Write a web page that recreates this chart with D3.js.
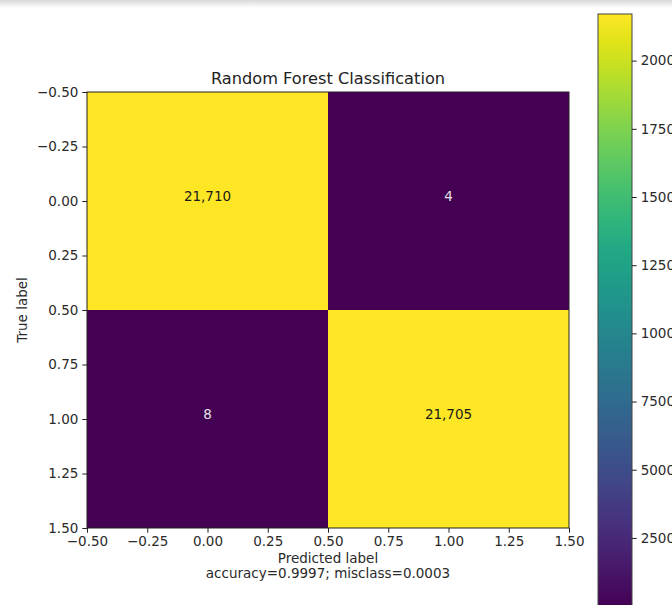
<!DOCTYPE html>
<html>
<head>
<meta charset="utf-8">
<script src="https://cdn.jsdelivr.net/npm/d3@7"></script>
<style>
  html, body { margin: 0; padding: 0; background: #fff; }
  svg { display: block; font-family: "DejaVu Sans", sans-serif; }
</style>
</head>
<body>
<svg id="chart" width="672" height="605"></svg>
<script>
// Confusion matrix of the random forest classifier
const trueLabels = [0, 1];
const predictedLabels = [0, 1];
const row0Counts = [21710, 4];
const row1Counts = [8, 21705];
const axisTicks = [-0.5, -0.25, 0, 0.25, 0.5, 0.75, 1.0, 1.25, 1.5];
const colorbarTicks = [2500, 5000, 7500, 10000, 12500, 15000, 17500, 20000];
const titleText = "Random Forest Classification";
const xLabelText = "Predicted label";
const yLabelText = "True label";
const statsText = "accuracy=0.9997; misclass=0.0003";

const counts = [row0Counts, row1Counts];
const cells = [];
trueLabels.forEach((t, i) => predictedLabels.forEach((p, j) => cells.push({ t, p, v: counts[i][j] })));

const svg = d3.select("#chart");
const fontSize = 13.5;

// faint band along the top edge
const defs = svg.append("defs");
const band = defs.append("linearGradient").attr("id", "topband")
  .attr("x1", 0).attr("y1", 0).attr("x2", 0).attr("y2", 1);
band.append("stop").attr("offset", "0%").attr("stop-color", "#d9d9d9");
band.append("stop").attr("offset", "100%").attr("stop-color", "#ffffff");
svg.append("rect").attr("x", 0).attr("y", 0).attr("width", 672).attr("height", 8)
  .attr("fill", "url(#topband)");

// plot area
const x = d3.scaleLinear().domain([-0.5, 1.5]).range([87, 569]);
const y = d3.scaleLinear().domain([-0.5, 1.5]).range([92, 528]);

const vmin = d3.min(cells, d => d.v), vmax = d3.max(cells, d => d.v);
const color = d3.scaleSequential(d3.interpolateViridis).domain([vmin, vmax]);

svg.append("g").selectAll("rect").data(cells).join("rect")
  .attr("x", d => x(d.p - 0.5))
  .attr("y", d => y(d.t - 0.5))
  .attr("width", d => x(d.p + 0.5) - x(d.p - 0.5))
  .attr("height", d => y(d.t + 0.5) - y(d.t - 0.5))
  .attr("fill", d => color(d.v));

// cell counts, dark on bright cells and light on dark cells
const fmtCount = d3.format(",");
svg.append("g").selectAll("text").data(cells).join("text")
  .attr("x", d => x(d.p))
  .attr("y", d => y(d.t) - 5)
  .attr("text-anchor", "middle")
  .attr("dominant-baseline", "central")
  .attr("font-size", fontSize)
  .attr("fill", d => d.v > (vmin + vmax) / 2 ? "#1a1a1a" : "#e2e2e2")
  .text(d => fmtCount(d.v));

const fmtTick = d3.format(".2f");
const xAxis = svg.append("g").attr("transform", "translate(0,528)")
  .call(d3.axisBottom(x).tickValues(axisTicks).tickFormat(fmtTick).tickSize(4.7).tickPadding(4));
const yAxis = svg.append("g").attr("transform", "translate(87,0)")
  .call(d3.axisLeft(y).tickValues(axisTicks).tickFormat(fmtTick).tickSize(4.7).tickPadding(4));
[xAxis, yAxis].forEach(g => {
  g.select(".domain").remove();
  g.selectAll("line").attr("stroke", "#222");
  g.selectAll("text").attr("font-size", fontSize).attr("fill", "#2a2a2a")
    .attr("font-family", "DejaVu Sans, sans-serif");
});

// spines
svg.append("rect").attr("x", 87).attr("y", 92).attr("width", 482).attr("height", 436)
  .attr("fill", "none").attr("stroke", "#222").attr("stroke-width", 1);

// titles
svg.append("text").attr("x", 328).attr("y", 84).attr("text-anchor", "middle")
  .attr("font-size", 16.2).attr("fill", "#222").text(titleText);
svg.append("text").attr("x", 328).attr("y", 563).attr("text-anchor", "middle")
  .attr("font-size", fontSize).attr("fill", "#2a2a2a").text(xLabelText);
svg.append("text").attr("x", 328).attr("y", 578).attr("text-anchor", "middle")
  .attr("font-size", fontSize).attr("fill", "#2a2a2a").text(statsText);
svg.append("text").attr("transform", "translate(27,310) rotate(-90)").attr("text-anchor", "middle")
  .attr("font-size", fontSize).attr("fill", "#2a2a2a").text(yLabelText);

// colorbar
const cbX = 598, cbW = 34;
const cb = d3.scaleLinear().domain([vmin, vmax]).range([606, 14]);
const grad = defs.append("linearGradient").attr("id", "viridis")
  .attr("x1", 0).attr("y1", 1).attr("x2", 0).attr("y2", 0);
d3.range(0, 1.0001, 0.05).forEach(t => {
  grad.append("stop").attr("offset", (t * 100) + "%").attr("stop-color", d3.interpolateViridis(t));
});
svg.append("rect").attr("x", cbX).attr("y", cb(vmax)).attr("width", cbW)
  .attr("height", cb(vmin) - cb(vmax)).attr("fill", "url(#viridis)")
  .attr("stroke", "#444").attr("stroke-width", 1);
const cbAxis = svg.append("g").attr("transform", `translate(${cbX + cbW},0)`)
  .call(d3.axisRight(cb).tickValues(colorbarTicks).tickFormat(d3.format("d")).tickSize(4.7).tickPadding(4));
cbAxis.select(".domain").remove();
cbAxis.selectAll("line").attr("stroke", "#222");
cbAxis.selectAll("text").attr("font-size", fontSize).attr("fill", "#2a2a2a")
  .attr("font-family", "DejaVu Sans, sans-serif");
</script>
</body>
</html>
